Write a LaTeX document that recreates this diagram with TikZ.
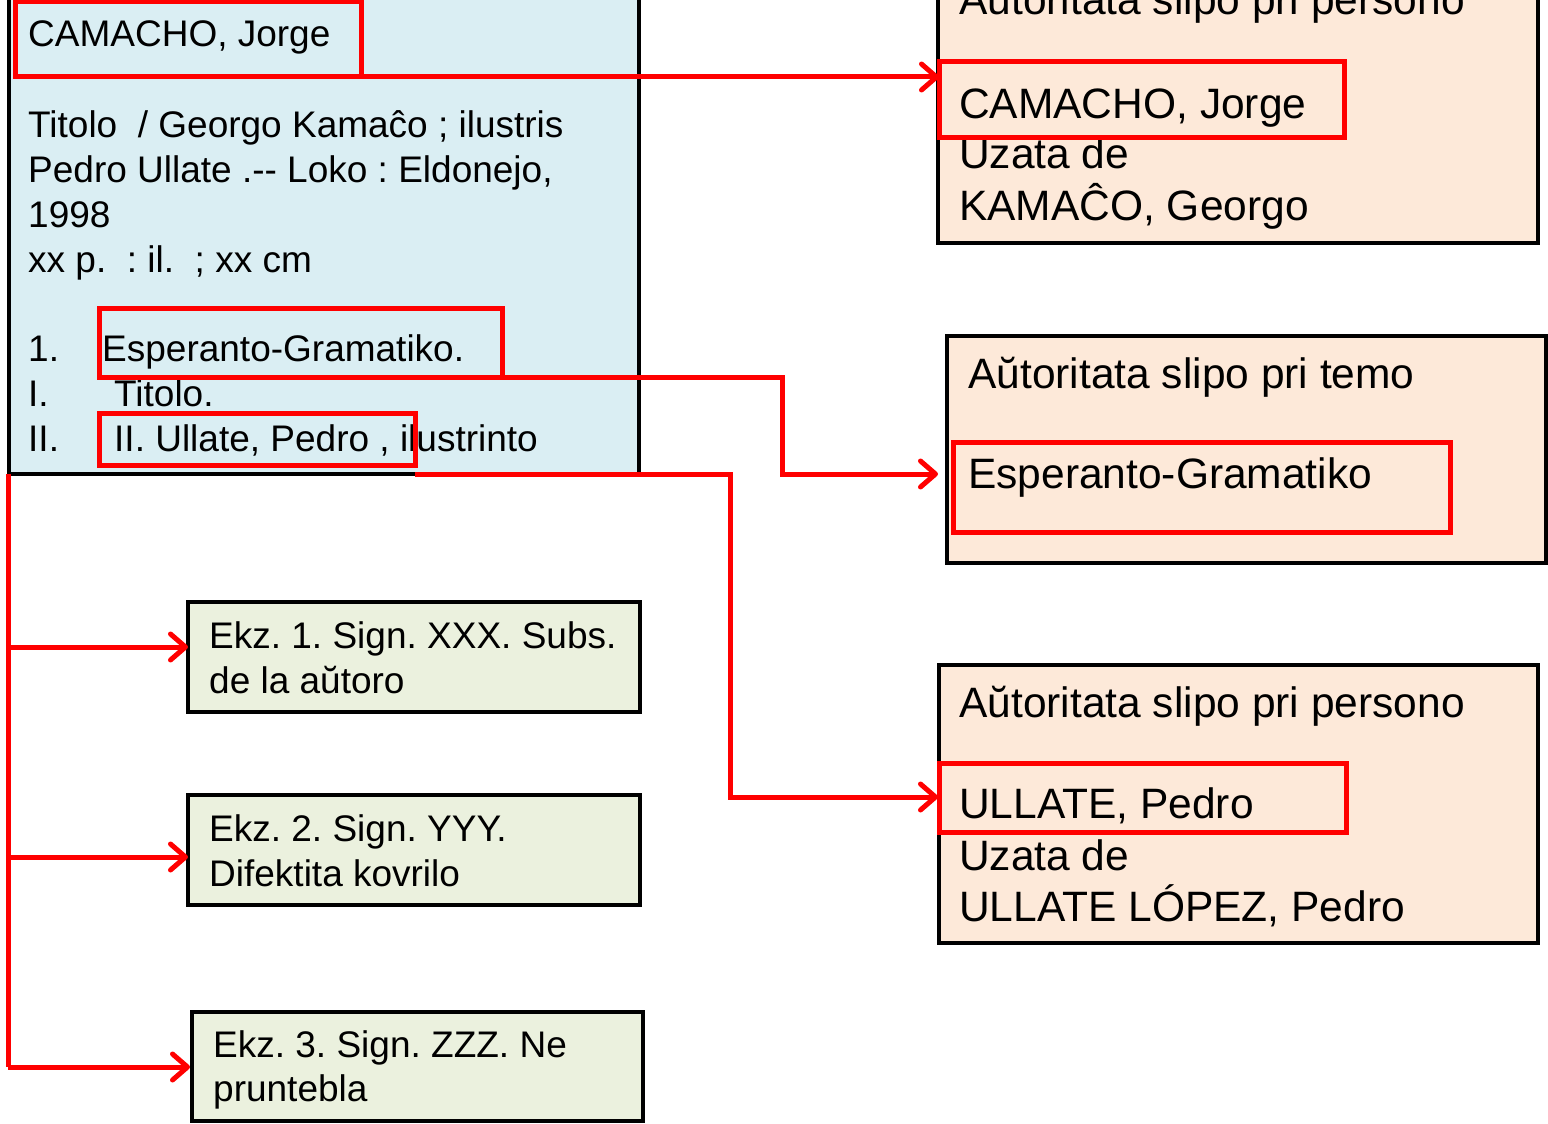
\documentclass[tikz,border=0pt]{standalone}
\usepackage{fontspec}
\setmainfont{Liberation Sans}
\usetikzlibrary{arrows.meta}
\definecolor{bluefill}{HTML}{DAEEF3}
\definecolor{greenfill}{HTML}{EBF1DE}
\definecolor{peachfill}{HTML}{FDE9D9}
\definecolor{hlred}{HTML}{FF0000}
\frenchspacing
\tikzset{
  card/.style={draw=black, line width=3.5pt, outer sep=0pt, inner sep=0pt, anchor=north west},
  hl/.style={draw=hlred, line width=5pt, outer sep=0pt, inner sep=0pt, anchor=north west},
  conn/.style={draw=hlred, line width=5pt, -{Straight Barb[length=15pt,width=26pt,round]}},
  plainred/.style={draw=hlred, line width=5pt},
  tmain/.style={anchor=base west, inner sep=0pt, font=\fontsize{37}{45}\selectfont},
  tright/.style={anchor=base west, inner sep=0pt, font=\fontsize{42.5}{51}\selectfont},
}
\begin{document}
\begin{tikzpicture}[x=1pt,y=-1pt]
\useasboundingbox (0,0) rectangle (1548,1124);
% main card
\node[card, fill=bluefill, minimum width=630pt, minimum height=484pt] (mainbox) at (9,-10) {};
% exemplar cards
\node[card, fill=greenfill, minimum width=452pt, minimum height=110pt] (ekz1) at (188,602) {};
\node[card, fill=greenfill, minimum width=452pt, minimum height=110pt] (ekz2) at (188,795) {};
\node[card, fill=greenfill, minimum width=451pt, minimum height=109pt] (ekz3) at (192,1012) {};
% authority cards
\node[card, fill=peachfill, minimum width=600pt, minimum height=280pt] (rb1) at (938,-37) {};
\node[card, fill=peachfill, minimum width=599pt, minimum height=227pt] (rb2) at (947,336) {};
\node[card, fill=peachfill, minimum width=599pt, minimum height=278pt] (rb3) at (939,665) {};

% main card texts
\node[tmain] (m0) at (28,47) {CAMACHO, Jorge};
\node[tmain] (m1) at (28,137) {Titolo\ \ / Georgo Kamaĉo ; ilustris};
\node[tmain] (m2) at (28,182) {Pedro Ullate .-{}- Loko : Eldonejo,};
\node[tmain] (m3) at (28,227) {1998};
\node[tmain] (m4) at (28,272) {xx p.\ \ : il.\ \ ; xx cm};
\node[tmain] (m5) at (28,361) {1.};
\node[tmain] (m5b) at (102,361) {Esperanto-Gramatiko.};
\node[tmain] (m6) at (28,406) {I.};
\node[tmain] (m6b) at (114,406) {Titolo.};
\node[tmain] (m7) at (28,451) {II.};
\node[tmain] (m7b) at (114,451) {II. Ullate, Pedro , ilustrinto};

% exemplar texts
\node[tmain] (e1a) at (209,648) {Ekz. 1. Sign. XXX. Subs.};
\node[tmain] (e1b) at (209,693) {de la aŭtoro};
\node[tmain] (e2a) at (209,841) {Ekz. 2. Sign. YYY.};
\node[tmain] (e2b) at (209,886) {Difektita kovrilo};
\node[tmain] (e3a) at (213,1057) {Ekz. 3. Sign. ZZZ. Ne};
\node[tmain] (e3b) at (213,1101) {pruntebla};

% authority texts
\node[tright] (r1t) at (959,15) {Aŭtoritata slipo pri persono};
\node[tright] (r1a) at (959,118) {CAMACHO, Jorge};
\node[tright] (r1b) at (959,168) {Uzata de};
\node[tright] (r1c) at (959,220) {KAMAĈO, Georgo};
\node[tright] (r2t) at (968,388) {Aŭtoritata slipo pri temo};
\node[tright] (r2a) at (968,488) {Esperanto-Gramatiko};
\node[tright] (r3t) at (959,717) {Aŭtoritata slipo pri persono};
\node[tright] (r3a) at (959,818) {ULLATE, Pedro};
\node[tright] (r3b) at (959,870) {Uzata de};
\node[tright] (r3c) at (959,921) {ULLATE LÓPEZ, Pedro};

% red highlight frames
\node[hl, minimum width=346pt, minimum height=75pt] (cam) at (15,2) {};
\node[hl, minimum width=403pt, minimum height=69pt] (esp) at (99,308) {};
\node[hl, minimum width=316pt, minimum height=52pt] (ull) at (99,413) {};
\node[hl, minimum width=405pt, minimum height=75pt] (hr1) at (939,62) {};
\node[hl, minimum width=497pt, minimum height=90pt] (hr2) at (953,442) {};
\node[hl, minimum width=407pt, minimum height=69pt] (hr3) at (939,763) {};

% connector coordinates
\coordinate (bend2) at (782,377);
\coordinate (tip2) at (938,474);
\coordinate (bend3) at (730,474);
\coordinate (tip3) at (938,797);
\coordinate (tipE1) at (188,647);
\coordinate (tipE2) at (188,857);
\coordinate (tipE3) at (190,1067);
\coordinate (trunk) at (8,474);

% connectors
\draw[conn] (cam.south east) -- (cam.south east -| hr1.west);
\draw[conn] (esp.south east) -- (bend2) |- (tip2);
\draw[conn] (ull.south east |- mainbox.south) -- (bend3) |- (tip3);
\draw[plainred] (trunk) -- (trunk |- tipE3);
\draw[conn] (trunk |- tipE1) -- (tipE1);
\draw[conn] (trunk |- tipE2) -- (tipE2);
\draw[conn] (trunk |- tipE3) -- (tipE3);
\end{tikzpicture}
\end{document}
